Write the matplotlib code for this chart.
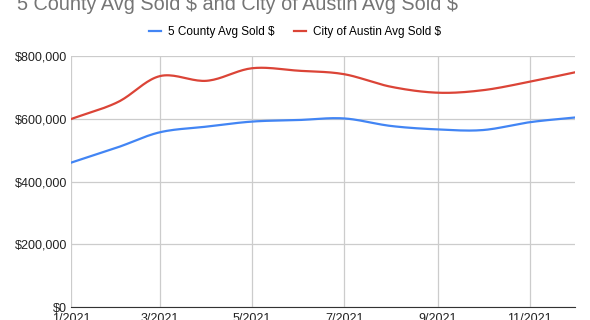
import datetime
import numpy as np
import matplotlib.pyplot as plt
import matplotlib.dates as mdates
from matplotlib.ticker import FuncFormatter

months = [datetime.date(2021, m, 1) for m in range(1, 13)]
county_avg = [460000, 509000, 557000, 575000, 591000, 596000, 601000, 577000, 566000, 564000, 589000, 604000]
austin_avg = [599000, 653000, 736000, 721000, 761000, 753000, 742000, 702000, 683000, 691000, 718000, 748000]
tick_months = [datetime.date(2021, m, 1) for m in (1, 3, 5, 7, 9, 11)]
tick_labels = ["1/2021", "3/2021", "5/2021", "7/2021", "9/2021", "11/2021"]


def smooth(x, y, n=20):
    # catmull-rom curve through the points, only for drawing the line smooth
    x = np.asarray(x, float)
    y = np.asarray(y, float)
    px = np.concatenate([[2 * x[0] - x[1]], x, [2 * x[-1] - x[-2]]])
    py = np.concatenate([[2 * y[0] - y[1]], y, [2 * y[-1] - y[-2]]])
    xs, ys = [], []
    t = np.linspace(0, 1, n, endpoint=False)
    for i in range(1, len(px) - 2):
        for p, out in ((px, xs), (py, ys)):
            p0, p1, p2, p3 = p[i - 1], p[i], p[i + 1], p[i + 2]
            out.extend(0.5 * (2 * p1 + (-p0 + p2) * t + (2 * p0 - 5 * p1 + 4 * p2 - p3) * t ** 2
                              + (-p0 + 3 * p1 - 3 * p2 + p3) * t ** 3))
    xs.append(x[-1])
    ys.append(y[-1])
    return xs, ys


plt.rcParams['font.family'] = ['Liberation Sans', 'DejaVu Sans']
plt.rcParams['text.parse_math'] = False

fig = plt.figure(figsize=(5.9, 3.2), dpi=100)
ax = fig.add_axes([0.1203, 0.0406, 0.8543, 0.7844])

blue = '#4285F4'
red = '#DB4437'
xnum = mdates.date2num(months)
ax.plot(*smooth(xnum, county_avg), color=blue, lw=1.6, label='5 County Avg Sold $')
ax.plot(*smooth(xnum, austin_avg), color=red, lw=1.6, label='City of Austin Avg Sold $')

ax.set_xlim(xnum[0], xnum[-1])
ax.set_ylim(0, 800000)
ax.set_yticks([0, 200000, 400000, 600000, 800000])
ax.yaxis.set_major_formatter(FuncFormatter(lambda v, p: '${:,.0f}'.format(v)))
ax.set_xticks(mdates.date2num(tick_months))
ax.set_xticklabels(tick_labels)
ax.grid(True, color='#cccccc', lw=0.9)
ax.set_axisbelow(True)
for s in ['top', 'right', 'left']:
    ax.spines[s].set_visible(False)
ax.spines['bottom'].set_color('#333333')
ax.tick_params(length=0, labelsize=9, colors='#222222')
ax.tick_params(axis='y', pad=3)
ax.tick_params(axis='x', pad=4)

fig.text(0.029, 1 - 10 / 320, '5 County Avg Sold $ and City of Austin Avg Sold $',
         fontsize=14.3, color='#757575', va='baseline', ha='left')
fig.legend(loc='center', bbox_to_anchor=(0.5, 1 - 32 / 320), ncol=2, frameon=False,
           fontsize=8.5, handlelength=1.0, handletextpad=0.6, columnspacing=1.6)

plt.savefig('out.png', dpi=100)
